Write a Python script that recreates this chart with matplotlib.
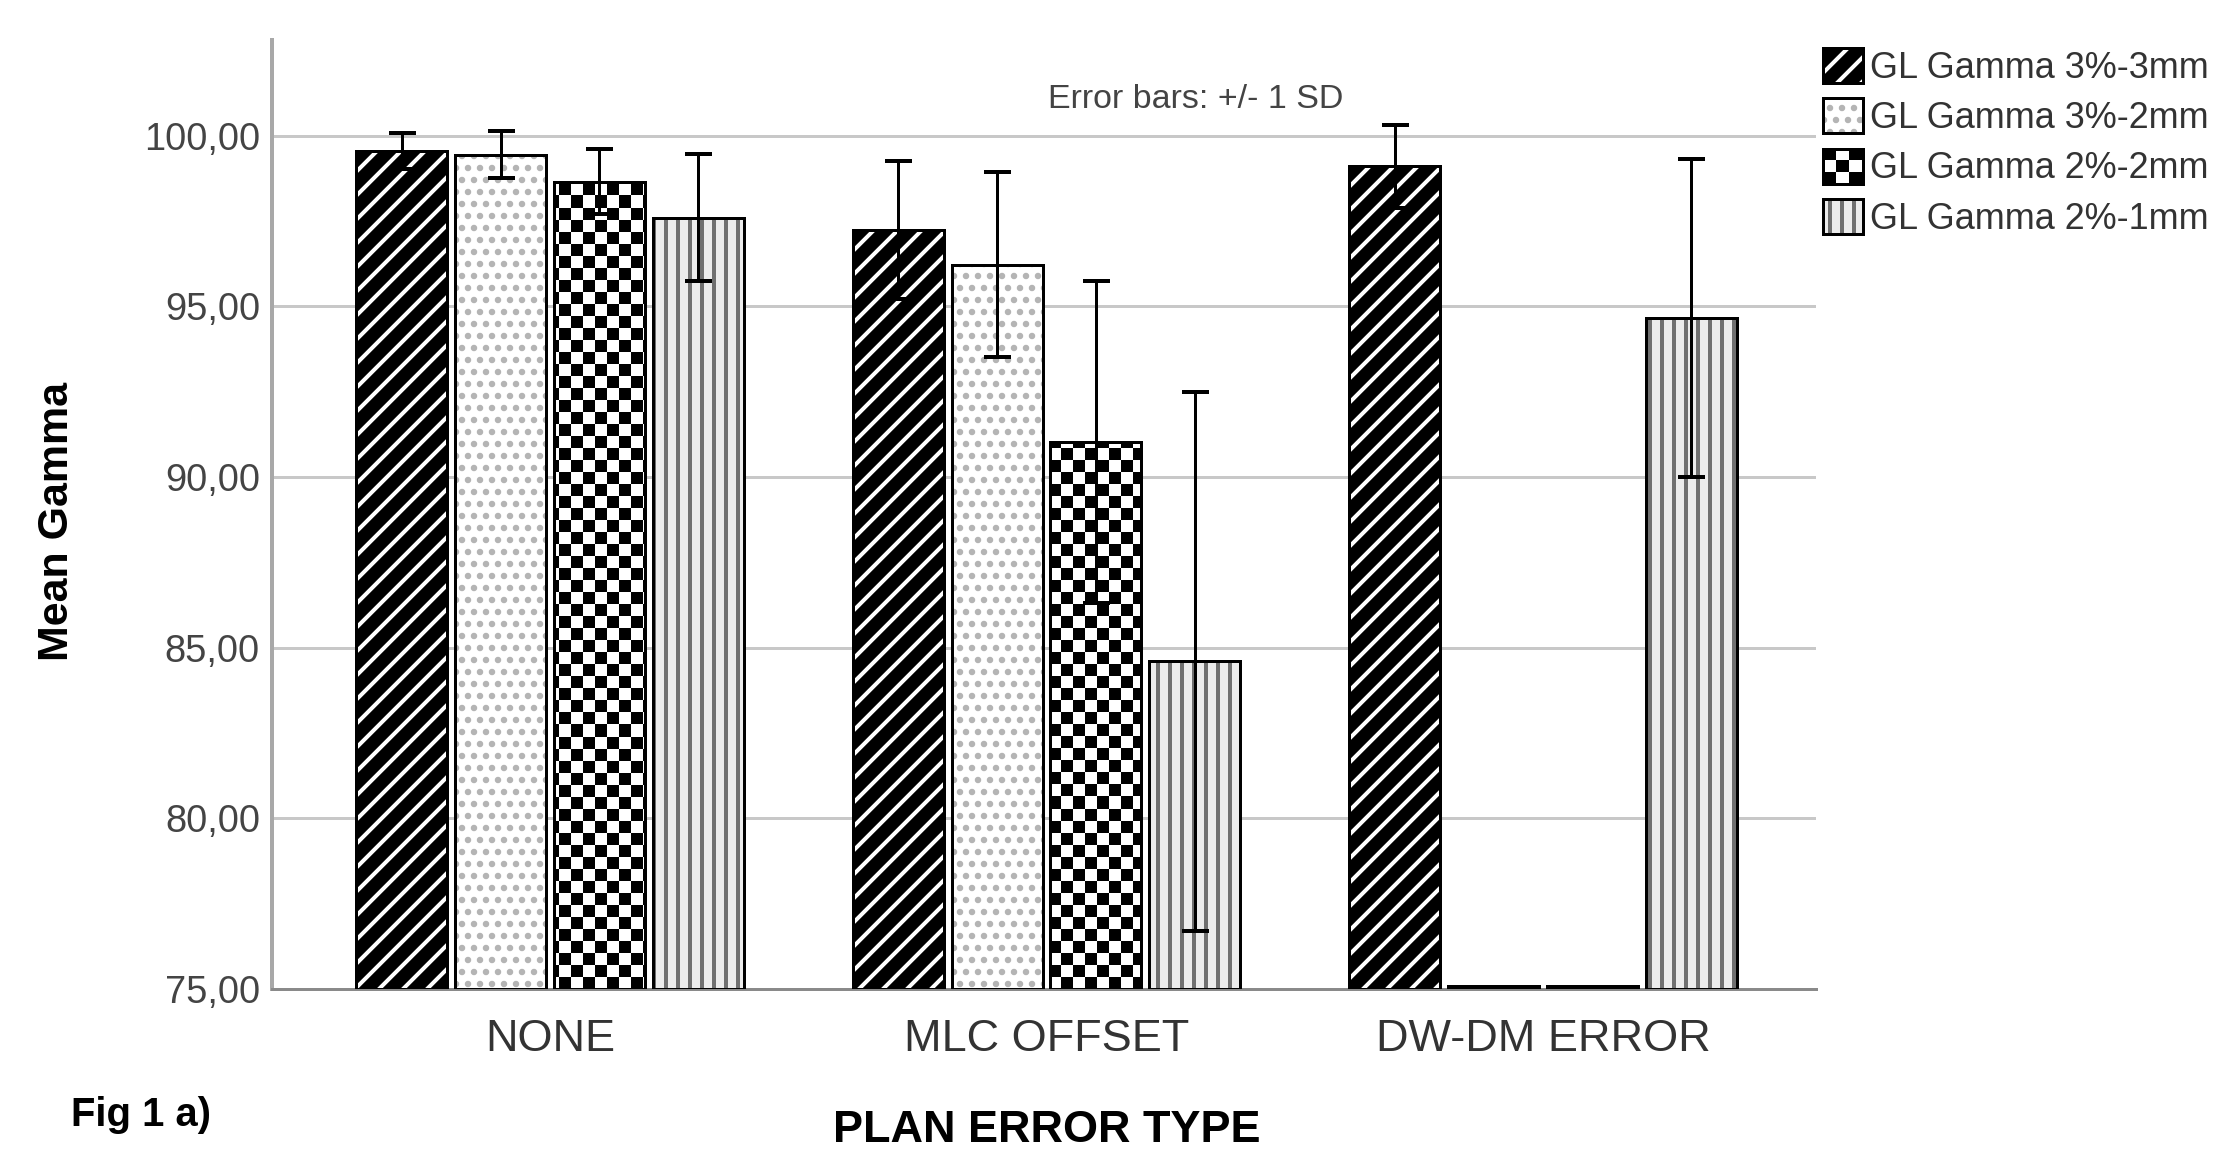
import numpy as np
import matplotlib.pyplot as plt
from matplotlib.patches import Rectangle
from matplotlib.legend_handler import HandlerBase

# Data
error_types = ["NONE", "MLC OFFSET", "DW-DM ERROR"]
series = ["GL Gamma 3%-3mm", "GL Gamma 3%-2mm", "GL Gamma 2%-2mm", "GL Gamma 2%-1mm"]

# mean gamma; DW-DM for 3%-2mm and 2%-2mm lies below the axis floor (drawn flat)
gamma_33 = [99.56, 97.24, 99.10]
gamma_32 = [99.44, 96.22, 74.0]
gamma_22 = [98.65, 91.03, 74.0]
gamma_21 = [97.60, 84.60, 94.66]

# +/- 1 SD
sd_33 = [0.53, 2.03, 1.22]
sd_32 = [0.68, 2.72, np.nan]
sd_22 = [0.95, 4.72, np.nan]
sd_21 = [1.85, 7.90, 4.65]

y_ticks = [75, 80, 85, 90, 95, 100]

DPI = 144
plt.rcParams['font.family'] = ['Liberation Sans', 'DejaVu Sans']
plt.rcParams['hatch.linewidth'] = 2.0

W, H = 2225, 1155
fig = plt.figure(figsize=(W / DPI, H / DPI), dpi=DPI)
ax = fig.add_axes([272 / W, 1 - 989 / H, (1816 - 272) / W, (989 - 40) / H])

y_floor, y_top = 75, 102.8
xlim = (-0.56, 2.55)

means = [gamma_33, gamma_32, gamma_22, gamma_21]
sds = [sd_33, sd_32, sd_22, sd_21]
# face colour, hatch, hatch colour
styles = [("black", "//", "white"),
          ("white", "..", "#b4b4b4"),
          ("white", None, "black"),      # checker pattern, drawn as clipped image
          ("#ececec", "||", "#707070")]

x = np.arange(len(error_types))
width, step = 0.183, 0.199

# checkerboard texture about 12 px per square
nx, ny = 129, 79
checker = np.add.outer(np.arange(ny), np.arange(nx)) % 2

handles = []
for i, (m, sd) in enumerate(zip(means, sds)):
    xs = x + (i - 1.5) * step
    # values under the floor still show as a flat bar on the axis
    heights = np.clip(np.array(m) - y_floor, 0.08, None)
    face, hatch, hcol = styles[i]
    fill = ax.bar(xs, heights, width, bottom=y_floor, color=face, edgecolor=hcol,
                  hatch=hatch, linewidth=0, zorder=2)
    edge = ax.bar(xs, heights, width, bottom=y_floor, fill=False, edgecolor="black",
                  linewidth=1.5, zorder=4)
    if hatch is None:
        for p in fill:
            if p.get_height() > 1:
                im = ax.imshow(checker, cmap="gray", extent=(*xlim, y_floor, y_top),
                               aspect="auto", interpolation="nearest", zorder=3)
                im.set_clip_path(p)
        handles.append("checker")
    else:
        handles.append((fill[0], edge[0]))
    ax.errorbar(xs, m, yerr=sd, fmt="none", ecolor="black", elinewidth=1.5,
                capsize=6.75, capthick=2, zorder=5)

ax.set_xlim(*xlim)
ax.set_ylim(y_floor, y_top)


class CheckerKey:
    pass


class CheckerHandler(HandlerBase):
    def create_artists(self, legend, orig_handle, xdescent, ydescent, width, height,
                       fontsize, trans):
        arts = []
        n = 3
        for a in range(n):
            for b in range(n):
                if (a + b) % 2 == 0:
                    arts.append(Rectangle((-xdescent + a * width / n, -ydescent + b * height / n),
                                          width / n, height / n, facecolor="black",
                                          edgecolor="none", transform=trans))
        arts.append(Rectangle((-xdescent, -ydescent), width, height, facecolor="none",
                              edgecolor="black", lw=1.5, transform=trans))
        return arts


handles = [CheckerKey() if h == "checker" else h for h in handles]
leg = fig.legend(handles, series, loc="upper left", bbox_to_anchor=(1823 / W, 1 - 48 / H),
                 bbox_transform=fig.transFigure, frameon=False, fontsize=18,
                 handlelength=1.1, handleheight=1.1, handletextpad=0.2, labelspacing=0.36,
                 borderpad=0, borderaxespad=0, handler_map={CheckerKey: CheckerHandler()})
for t in leg.get_texts():
    t.set_color("#333333")

ax.set_yticks(y_ticks)
ax.set_yticklabels([f"{v:.2f}".replace(".", ",") for v in y_ticks])
ax.set_xticks(x)
ax.set_xticklabels(error_types)
ax.tick_params(axis="y", length=0, pad=6, labelsize=19, labelcolor="#444444")
ax.tick_params(axis="x", length=0, pad=15, labelsize=22.5, labelcolor="#333333")

ax.yaxis.grid(True, color="#c8c8c8", linewidth=1.5)
ax.set_axisbelow(True)
for s in ["top", "right"]:
    ax.spines[s].set_visible(False)
ax.spines["left"].set_color("#a8a8a8")
ax.spines["left"].set_linewidth(2)
ax.spines["bottom"].set_color("#8a8a8a")
ax.spines["bottom"].set_linewidth(1.5)

fig.text(1196 / W, 1 - 100 / H, "Error bars: +/- 1 SD", ha="center", va="center",
         fontsize=17, color="#444444")
fig.text(57 / W, 1 - 522 / H, "Mean Gamma", rotation=90, ha="center", va="center",
         fontsize=21.5, fontweight="bold")
fig.text(1047 / W, 1 - 1130 / H, "PLAN ERROR TYPE", ha="center", va="center",
         fontsize=22.5, fontweight="bold")
fig.text(71 / W, 1 - 1115 / H, "Fig 1 a)", ha="left", va="center",
         fontsize=20, fontweight="bold")

fig.savefig("out.png", dpi=DPI)
